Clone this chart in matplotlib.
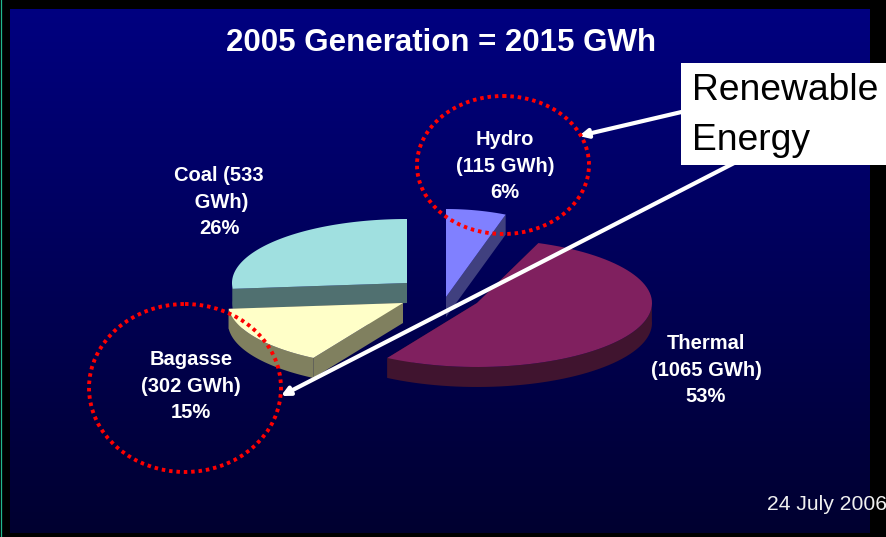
import numpy as np
import matplotlib
matplotlib.use('Agg')
import matplotlib.pyplot as plt
from matplotlib.patches import Polygon, Ellipse, Rectangle

plt.rcParams['font.family'] = ['Liberation Sans', 'DejaVu Sans']

names = ['Hydro', 'Thermal', 'Bagasse', 'Coal']
gwh = [115, 1065, 302, 533]
labels = ['Hydro\n(115 GWh)\n6%', 'Thermal\n(1065 GWh)\n53%', 'Bagasse\n(302 GWh)\n15%', 'Coal (533\n GWh)\n26%']
top_colors = ['#8080ff', '#80205f', '#ffffc8', '#a0e0e0']
side_colors = ['#40407f', '#40142f', '#80805f', '#507070']

# apex of each exploded slice, in pixels
apex = [(446, 297), (477, 303), (403, 303), (407, 283)]
radius_x = [170, 175, 175, 175]
radius_y = [88, 64, 64, 64]
label_pos = [(505, 166), (706, 370), (191, 386), (219, 202)]
depth = 20

fig = plt.figure(figsize=(8.87, 5.37), dpi=100, facecolor='black')
ax = fig.add_axes([0, 0, 1, 1])
ax.set_xlim(0, 887)
ax.set_ylim(537, 0)
ax.axis('off')

# background panel
grad = np.linspace(128, 48, 256).reshape(-1, 1)
rgb = np.zeros((256, 1, 3))
rgb[:, :, 2] = grad / 255.0
ax.imshow(rgb, extent=[10, 870, 533, 9], aspect='auto', zorder=0)
ax.set_xlim(0, 887)
ax.set_ylim(537, 0)
ax.plot([1.5, 1.5], [0, 537], color='#20b890', lw=0.9, zorder=1)

ax.text(441, 43, '2005 Generation = 2015 GWh', color='white', fontsize=22.5, weight='bold',
        ha='center', va='center', zorder=6)

# cumulative angles, clockwise from twelve o'clock
edges = np.concatenate([[0], np.cumsum(gwh)]) / float(sum(gwh)) * 2 * np.pi


def rim(i, a1, a2):
    t = np.linspace(a1, a2, 80)
    x = apex[i][0] + radius_x[i] * np.sin(t)
    y = apex[i][1] - radius_y[i] * np.cos(t)
    return np.column_stack([x, y])


def draw_slice(i, z):
    a1, a2 = edges[i], edges[i + 1]
    arc = rim(i, a1, a2)
    ap = np.array(apex[i], dtype=float)
    down = np.array([0, depth])
    # outer wall, only the part that faces the viewer
    t = np.linspace(a1, a2, 80)
    front = arc[np.cos(t) <= 0.05]
    if len(front) > 1:
        wall = np.vstack([front, (front + down)[::-1]])
        ax.add_patch(Polygon(wall, closed=True, fc=side_colors[i], ec='none', zorder=z))
    # cut faces
    for a_end in [a1, a2]:
        p = rim(i, a_end, a_end)[0]
        face = np.array([ap, p, p + down, ap + down])
        ax.add_patch(Polygon(face, closed=True, fc=side_colors[i], ec='none', zorder=z))
    top = np.vstack([[ap], arc])
    ax.add_patch(Polygon(top, closed=True, fc=top_colors[i], ec='none', zorder=z + 0.1))


draw_slice(3, 2)
draw_slice(2, 2.2)
draw_slice(0, 2.4)
draw_slice(1, 2.6)

for i in range(len(names)):
    ax.text(label_pos[i][0], label_pos[i][1], labels[i], color='white', fontsize=14.5, weight='bold',
            ha='center', va='center', linespacing=1.49, zorder=6)

# arrows from the text box
ax.annotate('', xy=(579, 136), xytext=(690, 110), zorder=4,
            arrowprops=dict(arrowstyle='-|>,head_length=0.5,head_width=0.25', color='white', lw=3, shrinkA=0, shrinkB=0))
ax.annotate('', xy=(281, 396), xytext=(740, 160), zorder=4,
            arrowprops=dict(arrowstyle='-|>,head_length=0.5,head_width=0.25', color='white', lw=3, shrinkA=0, shrinkB=0))

# dotted circles
for c, w, h in [((503, 165), 172, 138), ((185, 388), 192, 168)]:
    ax.add_patch(Ellipse(c, w, h, fill=False, ec='#ff0000', lw=2.8, ls=(0, (0.9, 1.0)), zorder=5))

# text box
ax.add_patch(Rectangle((681, 63), 206, 102, fc='white', ec='none', zorder=7))
ax.text(692, 90, 'Renewable', color='black', fontsize=26.8, ha='left', va='center', zorder=8)
ax.text(692, 141, 'Energy', color='black', fontsize=26.8, ha='left', va='center', zorder=8)

ax.text(887, 504, '24 July 2006', color='#f0f0f0', fontsize=15.2, ha='right', va='center', zorder=8)

fig.savefig('out.png', dpi=100, facecolor='black')
